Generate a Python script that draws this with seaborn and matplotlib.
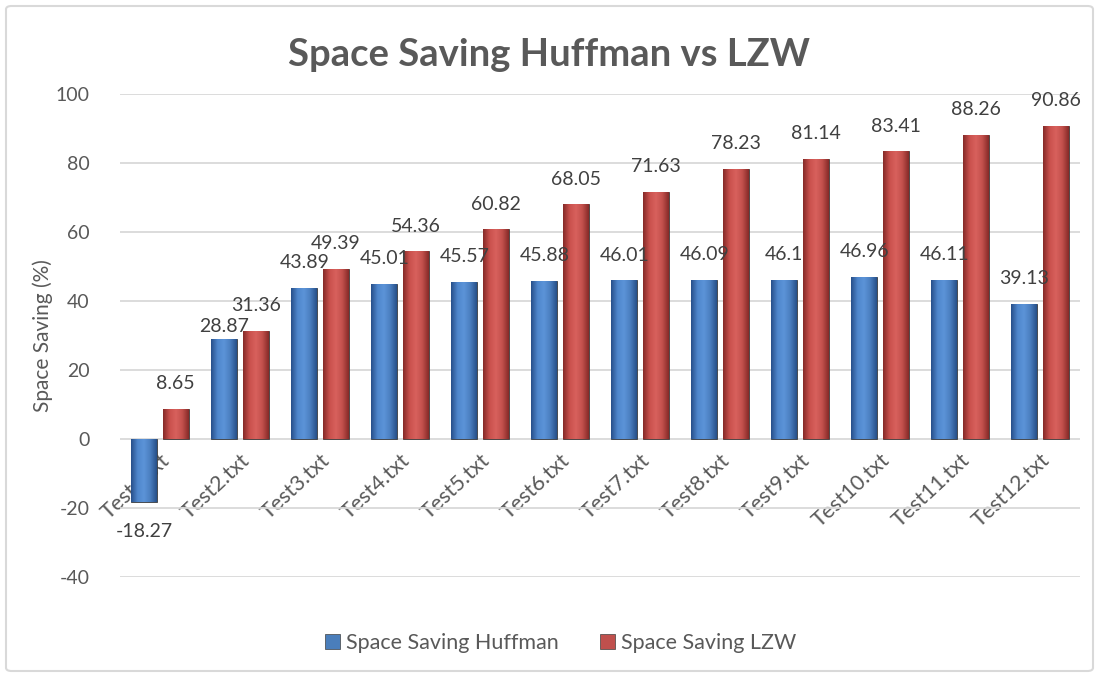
import numpy as np
import pandas as pd
import matplotlib
matplotlib.use("Agg")
import matplotlib.pyplot as plt
import seaborn as sns
from matplotlib.colors import LinearSegmentedColormap
from matplotlib.patches import FancyBboxPatch

files = ['Test1.txt', 'Test2.txt', 'Test3.txt', 'Test4.txt', 'Test5.txt', 'Test6.txt',
         'Test7.txt', 'Test8.txt', 'Test9.txt', 'Test10.txt', 'Test11.txt', 'Test12.txt']
huffman = [-18.27, 28.87, 43.89, 45.01, 45.57, 45.88, 46.01, 46.09, 46.1, 46.96, 46.11, 39.13]
lzw = [8.65, 31.36, 49.39, 54.36, 60.82, 68.05, 71.63, 78.23, 81.14, 83.41, 88.26, 90.86]
series = ['Space Saving Huffman', 'Space Saving LZW']

df = pd.DataFrame({
    'File': files * 2,
    'Value': huffman + lzw,
    'Series': [series[0]] * len(files) + [series[1]] * len(files),
})

sns.set_theme(style="white")
plt.rcParams['font.family'] = ['Lato', 'DejaVu Sans']
plt.rcParams['axes.unicode_minus'] = False
grey = '#595959'

fig = plt.figure(figsize=(10.99, 6.77), dpi=100)
ax = fig.add_axes([120 / 1099, 1 - 577 / 677, 960 / 1099, 483 / 677])

pal = {series[0]: '#4A7EBB', series[1]: '#C0504D'}
sns.barplot(data=df, x='File', y='Value', hue='Series', palette=pal, saturation=1,
            width=0.78, gap=0.17, ax=ax, legend=False, zorder=3)

# bevel-like shading on each bar (first 12 patches = Huffman, next 12 = LZW)
grads = [
    ['#27508A', '#4F86CC', '#5C94D8', '#4A7EBF', '#27508A'],
    ['#862A28', '#C9504C', '#D8615D', '#C3504C', '#862A28'],
]
bars = [p for p in ax.patches if p.get_width() > 0]
for k, p in enumerate(bars):
    cmap = LinearSegmentedColormap.from_list('g', grads[k // len(files)])
    x0, y0 = p.get_x(), p.get_y()
    w, h = p.get_width(), p.get_height()
    grad = np.linspace(0, 1, 64).reshape(1, -1)
    im = ax.imshow(grad, cmap=cmap, aspect='auto', zorder=4, interpolation='bilinear',
                   extent=[x0, x0 + w, min(y0, y0 + h), max(y0, y0 + h)])
    im.set_clip_path(p)
    p.set_edgecolor('#3A3A3A')
    p.set_linewidth(0.6)
    p.set_zorder(4)

ax.set_xlim(-0.5, 11.5)
ax.set_ylim(-40, 100)
ax.set_yticks(range(-40, 101, 20))
ax.grid(axis='y', color='#D9D9D9', linewidth=1.3, zorder=0)
ax.set_axisbelow(True)
for s in ax.spines.values():
    s.set_visible(False)
ax.spines['bottom'].set_position(('data', 0))

ax.tick_params(axis='y', length=0, colors=grey, labelsize=14, pad=22)
ax.tick_params(axis='x', length=0, colors=grey, labelsize=15.5, pad=8)
plt.setp(ax.get_xticklabels(), rotation=43, ha='right', rotation_mode='anchor')
for lab in ax.get_xticklabels():
    lab.set_zorder(6)
ax.set_xlabel('')
ax.set_ylabel('Space Saving (%)', color=grey, fontsize=15, labelpad=2)

# data labels; Huffman label lowered where it would collide with the LZW one
offs = [-0.195, 0.195]
for j, vals in enumerate([huffman, lzw]):
    for i, v in enumerate(vals):
        if v >= 0:
            dy = 12
            if j == 0 and 0 < lzw[i] - v < 4:
                dy = 3
            ax.annotate(f'{v:g}', (i + offs[j], v), xytext=(0, dy), textcoords='offset points',
                        ha='center', va='bottom', fontsize=14, color='#404040', zorder=7)
        else:
            ax.annotate(f'{v:g}', (i + offs[j], v), xytext=(0, -15), textcoords='offset points',
                        ha='center', va='top', fontsize=14, color='#404040', zorder=7)

fig.suptitle('Space Saving Huffman vs LZW', y=1 - 55 / 677, va='center',
             fontsize=27.5, fontweight='bold', color=grey)

handles = [plt.Rectangle((0, 0), 1, 1, facecolor=pal[s], edgecolor='#404040', linewidth=0.5) for s in series]
fig.legend(handles, series, loc='center', bbox_to_anchor=(0.51, 1 - 643 / 677), ncol=2,
           frameon=False, fontsize=15.5, labelcolor=grey, handlelength=0.7, handleheight=0.7,
           handletextpad=0.3, columnspacing=1.9)

fig.patches.append(FancyBboxPatch((6 / 1099, 6 / 677), 1 - 12 / 1099, 1 - 12 / 677,
                                  boxstyle='round,pad=0,rounding_size=0.005',
                                  transform=fig.transFigure, facecolor='none',
                                  edgecolor='#D9D9D9', linewidth=1.5))

fig.savefig('out.png', dpi=100)
